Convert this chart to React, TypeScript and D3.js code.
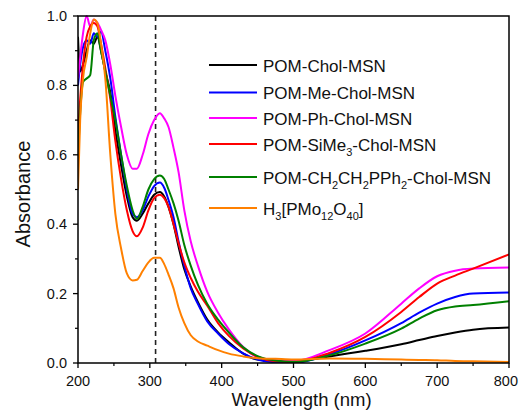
import React from "react";
import * as d3 from "d3";

const wavelengths = [200, 203, 207, 212, 217, 222, 227, 232, 238, 245, 252, 260, 268, 276, 282, 290, 298, 306, 314, 320, 326, 333, 340, 348, 357, 367, 380, 395, 410, 430, 450, 475, 500, 550, 600, 650, 675, 700, 725, 750, 800];

const cholMSN = [0.94, 0.84, 0.86, 0.9, 0.93, 0.92, 0.94, 0.9, 0.84, 0.78, 0.67, 0.57, 0.48, 0.42, 0.41, 0.43, 0.46, 0.485, 0.493, 0.48, 0.45, 0.4, 0.335, 0.27, 0.22, 0.175, 0.125, 0.088, 0.06, 0.027, 0.01, 0.006, 0.005, 0.019, 0.035, 0.054, 0.066, 0.078, 0.088, 0.096, 0.102];
const meCholMSN = [0.8, 0.86, 0.91, 0.93, 0.92, 0.95, 0.94, 0.955, 0.9, 0.82, 0.71, 0.6, 0.5, 0.43, 0.42, 0.44, 0.48, 0.51, 0.52, 0.505, 0.47, 0.42, 0.35, 0.28, 0.215, 0.17, 0.12, 0.085, 0.055, 0.028, 0.01, 0.002, 0.0, 0.025, 0.065, 0.115, 0.145, 0.171, 0.19, 0.2, 0.203];
const phCholMSN = [0.82, 0.88, 0.95, 1.0, 0.97, 0.99, 0.98, 0.96, 0.93, 0.86, 0.77, 0.68, 0.6, 0.56, 0.56, 0.6, 0.66, 0.7, 0.72, 0.705, 0.68, 0.62, 0.55, 0.44, 0.35, 0.28, 0.205, 0.145, 0.097, 0.046, 0.017, 0.008, 0.005, 0.037, 0.085, 0.171, 0.215, 0.25, 0.266, 0.272, 0.275];
const siMe3CholMSN = [0.66, 0.76, 0.86, 0.94, 0.97, 0.98, 0.97, 0.92, 0.85, 0.76, 0.64, 0.53, 0.44, 0.38, 0.365, 0.39, 0.44, 0.475, 0.485, 0.475, 0.45, 0.4, 0.345, 0.29, 0.245, 0.205, 0.165, 0.115, 0.078, 0.042, 0.018, 0.005, 0.003, 0.029, 0.075, 0.147, 0.19, 0.229, 0.252, 0.272, 0.313];
const pph2CholMSN = [0.59, 0.72, 0.81, 0.82, 0.83, 0.93, 0.95, 0.9, 0.84, 0.77, 0.7, 0.6, 0.51, 0.44, 0.415, 0.45, 0.5, 0.53, 0.54, 0.53, 0.5, 0.46, 0.41, 0.34, 0.28, 0.225, 0.17, 0.125, 0.088, 0.045, 0.02, 0.007, 0.003, 0.022, 0.056, 0.099, 0.128, 0.152, 0.163, 0.167, 0.178];
const h3pmo = [0.5, 0.7, 0.82, 0.88, 0.95, 0.99, 0.98, 0.92, 0.82, 0.6, 0.43, 0.33, 0.258, 0.238, 0.24, 0.265, 0.29, 0.303, 0.303, 0.285, 0.255, 0.215, 0.16, 0.115, 0.08, 0.062, 0.05, 0.037, 0.027, 0.019, 0.014, 0.012, 0.01, 0.013, 0.012, 0.01, 0.009, 0.008, 0.006, 0.005, 0.003];

const seriesValues = [cholMSN, meCholMSN, phCholMSN, siMe3CholMSN, pph2CholMSN, h3pmo];
const seriesColors = ["#000000", "#0000ff", "#ff00ff", "#ff0000", "#008000", "#ff8000"];
const seriesLabels = [
  [{ t: "POM-Chol-MSN" }],
  [{ t: "POM-Me-Chol-MSN" }],
  [{ t: "POM-Ph-Chol-MSN" }],
  [{ t: "POM-SiMe" }, { t: "3", sub: true }, { t: "-Chol-MSN" }],
  [{ t: "POM-CH" }, { t: "2", sub: true }, { t: "CH" }, { t: "2", sub: true }, { t: "PPh" }, { t: "2", sub: true }, { t: "-Chol-MSN" }],
  [{ t: "H" }, { t: "3", sub: true }, { t: "[PMo" }, { t: "12", sub: true }, { t: "O" }, { t: "40", sub: true }, { t: "]" }],
];
const legendRowY = [65, 92.5, 118, 144, 177, 208];

const xTicks = [200, 300, 400, 500, 600, 700, 800];
const xMinorTicks = [250, 350, 450, 550, 650, 750];
const yTicks = [0, 0.2, 0.4, 0.6, 0.8, 1.0];
const yMinorTicks = [0.1, 0.3, 0.5, 0.7, 0.9];
const markerWavelength = 308;

const W = 519;
const H = 416;
const left = 78;
const right = 509;
const top = 16;
const bottom = 363;

export default function App() {
  const x = d3.scaleLinear().domain([200, 800]).range([left, right]);
  const y = d3.scaleLinear().domain([0, 1]).range([bottom, top]);
  const line = d3
    .line<number>()
    .x((_, i) => x(wavelengths[i]))
    .y((v) => y(v))
    .curve(d3.curveMonotoneX);
  const font = "Arial, 'Liberation Sans', Helvetica, sans-serif";

  return (
    <svg
      width={W}
      height={H}
      style={{ position: "absolute", left: 0, top: 0, background: "#fff" }}
      fontFamily={font}
    >
      <rect x={0} y={0} width={W} height={H} fill="#fff" />
      <defs>
        <clipPath id="plotclip">
          <rect x={left} y={top - 2} width={right - left} height={bottom - top + 2} />
        </clipPath>
      </defs>
      <line
        x1={x(markerWavelength)}
        x2={x(markerWavelength)}
        y1={y(0)}
        y2={y(1)}
        stroke="#222"
        strokeWidth={1.6}
        strokeDasharray="5,4"
      />
      <g clipPath="url(#plotclip)">
        {seriesValues.map((vals, i) => (
          <path
            key={i}
            d={line(vals) || ""}
            fill="none"
            stroke={seriesColors[i]}
            strokeWidth={2}
            strokeLinejoin="round"
          />
        ))}
      </g>
      <rect x={left} y={top} width={right - left} height={bottom - top} fill="none" stroke="#000" strokeWidth={1.5} />
      {xTicks.map((t, i) => (
        <g key={"xt" + t}>
          <line x1={x(t)} x2={x(t)} y1={bottom} y2={bottom + 5} stroke="#000" strokeWidth={1.3} />
          <text
            x={i === xTicks.length - 1 ? W - 1 : x(t)}
            y={bottom + 23}
            fontSize={14.5}
            textAnchor={i === xTicks.length - 1 ? "end" : "middle"}
            fill="#111"
          >
            {t}
          </text>
        </g>
      ))}
      {xMinorTicks.map((t) => (
        <line key={"xm" + t} x1={x(t)} x2={x(t)} y1={bottom} y2={bottom + 3} stroke="#000" strokeWidth={1.2} />
      ))}
      {yTicks.map((t) => (
        <g key={"yt" + t}>
          <line x1={left - 5} x2={left} y1={y(t)} y2={y(t)} stroke="#000" strokeWidth={1.3} />
          <text x={left - 11} y={y(t) + 5} fontSize={14.5} textAnchor="end" fill="#111">
            {t.toFixed(1)}
          </text>
        </g>
      ))}
      {yMinorTicks.map((t) => (
        <line key={"ym" + t} x1={left - 3} x2={left} y1={y(t)} y2={y(t)} stroke="#000" strokeWidth={1.2} />
      ))}
      <text x={(left + right) / 2 + 8} y={406} fontSize={18.5} textAnchor="middle" fill="#111">
        Wavelength (nm)
      </text>
      <text transform={`translate(30,194) rotate(-90)`} fontSize={20} textAnchor="middle" fill="#111">
        Absorbance
      </text>
      {seriesLabels.map((segs, i) => (
        <g key={"lg" + i}>
          <line x1={209} x2={257} y1={legendRowY[i]} y2={legendRowY[i]} stroke={seriesColors[i]} strokeWidth={2.2} />
          <text x={263} y={legendRowY[i] + 6.5} fontSize={17} fill="#111">
            {segs.map((s, j) => {
              const prevSub = j > 0 && (segs[j - 1] as any).sub;
              const isSub = (s as any).sub;
              const dy = isSub ? 5 : prevSub ? -5 : 0;
              return (
                <tspan key={j} dy={dy} fontSize={isSub ? 11 : 17}>
                  {s.t}
                </tspan>
              );
            })}
          </text>
        </g>
      ))}
    </svg>
  );
}
